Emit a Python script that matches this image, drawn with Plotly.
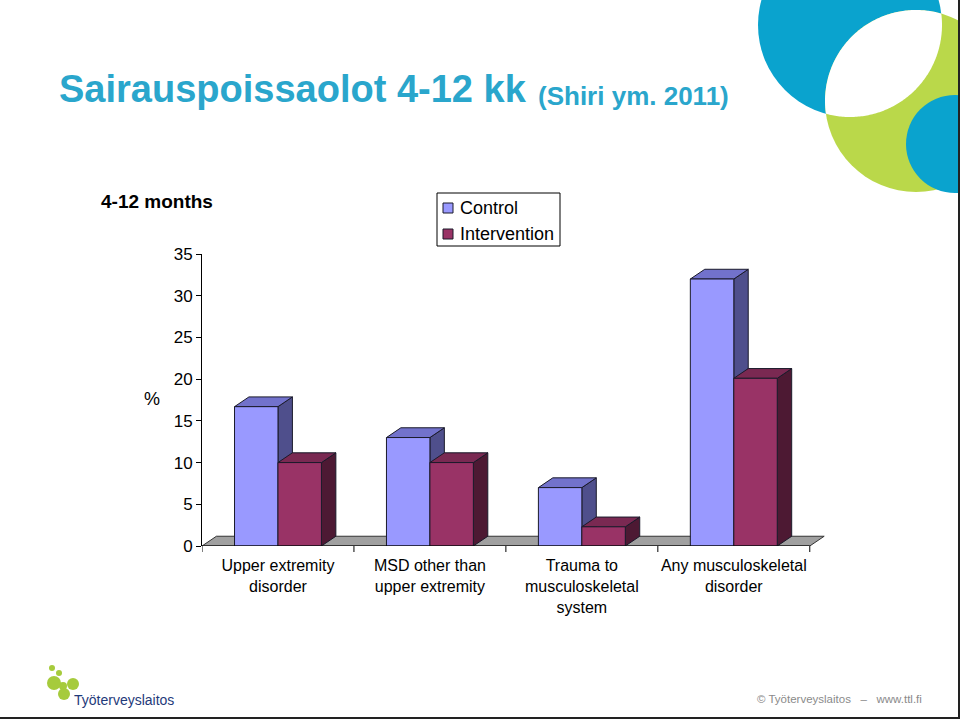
import numpy as np
import plotly.graph_objects as go

# --- data -------------------------------------------------------------
categories = [
    "Upper extremity<br>disorder",
    "MSD other than<br>upper extremity",
    "Trauma to<br>musculoskeletal<br>system",
    "Any musculoskeletal<br>disorder",
]
series_names = ["Control", "Intervention"]
control = [16.7, 13.0, 7.0, 32.0]
intervention = [10.0, 10.0, 2.3, 20.1]
y_ticks = [0, 5, 10, 15, 20, 25, 30, 35]

# --- page geometry (page pixels) -------------------------------------
W, H = 960, 719
PL, PR, PT, PB = 202, 828, 254, 546          # plot area edges on the page
X_RANGE = [-0.5, 3.62]
Y_RANGE = [0, 35]

BAR_W = 0.286          # width of one bar in category units
DX, DY = 0.095, 1.17   # fake 3-D depth offset in data units

C_FRONT, C_TOP, C_SIDE = "#9999FF", "#7272CC", "#4F4F8C"
I_FRONT, I_TOP, I_SIDE = "#993366", "#7A2952", "#4D1933"
EDGE = "#1A1A2A"


def px(x):
    """page x pixel -> paper x"""
    return (x - PL) / (PR - PL)


def py(y):
    """page y pixel -> paper y"""
    return (PB - y) / (PB - PT)


def faces(values, offset):
    """polygons for the front, top and side of each bar, None-separated"""
    front, top, side = ([], []), ([], []), ([], [])
    for i, v in enumerate(values):
        xl = i + offset
        xr = xl + BAR_W
        for poly, (xs, ys) in (
            (front, ([xl, xr, xr, xl, xl], [0, 0, v, v, 0])),
            (top, ([xl, xr, xr + DX, xl + DX, xl], [v, v, v + DY, v + DY, v])),
            (side, ([xr, xr + DX, xr + DX, xr, xr], [0, DY, v + DY, v, 0])),
        ):
            poly[0].extend(xs + [None])
            poly[1].extend(ys + [None])
    return front, top, side


def poly_trace(xy, colour):
    return go.Scatter(
        x=xy[0], y=xy[1], mode="lines", fill="toself", fillcolor=colour,
        line=dict(color=EDGE, width=1), hoverinfo="skip", showlegend=False,
    )


fig = go.Figure()

# floor of the 3-D box
n = len(categories)
fig.add_trace(go.Scatter(
    x=[-0.5, n - 0.5, n - 0.5 + DX, -0.5 + DX, -0.5],
    y=[0, 0, DY, DY, 0],
    mode="lines", fill="toself", fillcolor="#A0A0A0",
    line=dict(color="#333333", width=1), hoverinfo="skip", showlegend=False,
))

for vals, off, cols in (
    (control, -BAR_W, (C_FRONT, C_TOP, C_SIDE)),
    (intervention, 0.0, (I_FRONT, I_TOP, I_SIDE)),
):
    fr, tp, sd = faces(vals, off)
    fig.add_trace(poly_trace(sd, cols[2]))
    fig.add_trace(poly_trace(tp, cols[1]))
    fig.add_trace(poly_trace(fr, cols[0]))

# x axis line and category boundary ticks
shapes = [dict(type="line", xref="x", yref="y", x0=-0.5, x1=n - 0.5,
               y0=0, y1=0, line=dict(color="black", width=1))]
for b in np.arange(n + 1) - 0.5:
    shapes.append(dict(type="line", xref="x", yref="paper", x0=b, x1=b,
                       y0=0, y1=-6 / (PB - PT),
                       line=dict(color="black", width=1)))


def circle(cx, cy, r, colour, layer="below"):
    return dict(type="circle", xref="paper", yref="paper",
                x0=px(cx - r), x1=px(cx + r), y0=py(cy + r), y1=py(cy - r),
                fillcolor=colour, line=dict(width=0), layer=layer)


def rect(x0, y0, x1, y1, fill, line_col=None):
    return dict(type="rect", xref="paper", yref="paper",
                x0=px(x0), x1=px(x1), y0=py(y1), y1=py(y0), fillcolor=fill,
                line=dict(color=line_col or fill, width=1 if line_col else 0))


# decorative circles in the top-right corner
BLUE, GREEN = "#0AA3CE", "#BAD84A"
c1, r1 = (850, 25), 92
c2, r2 = (916, 101), 91
shapes.append(circle(*c1, r1, BLUE))
shapes.append(circle(*c2, r2, GREEN))

# white lens where the two big circles overlap
t = np.linspace(0, 2 * np.pi, 400)
pts = []
for (cx, cy, r), (ox, oy, orr) in (((*c1, r1), (*c2, r2)), ((*c2, r2), (*c1, r1))):
    xs, ys = cx + r * np.cos(t), cy + r * np.sin(t)
    inside = (xs - ox) ** 2 + (ys - oy) ** 2 <= orr ** 2
    pts.extend(zip(xs[inside], ys[inside]))
pts = np.array(pts)
mx, my = pts.mean(axis=0)
pts = pts[np.argsort(np.arctan2(pts[:, 1] - my, pts[:, 0] - mx))]
path = "M" + "L".join(f"{px(a):.5f},{py(b):.5f}" for a, b in pts) + "Z"
shapes.append(dict(type="path", xref="paper", yref="paper", path=path,
                   fillcolor="white", line=dict(width=0), layer="below"))
shapes.append(circle(955, 144, 49, BLUE))

# logo blobs
LOGO_G = "#A6CB3C"
for cx, cy, r in ((52, 668, 3), (59, 673, 3), (54, 683, 7),
                  (63, 686, 4), (73, 684, 6), (64, 694, 6)):
    shapes.append(circle(cx, cy, r, LOGO_G))

# hand-built legend box (matches the compact Excel legend)
shapes.append(rect(437, 193, 560, 246, "white", "black"))
for (y0, y1), col in (((203, 213), C_FRONT), ((229, 239), I_FRONT)):
    shapes.append(rect(443, y0, 453, y1, col, EDGE))

# page frame (right and bottom)
shapes.append(dict(type="line", xref="paper", yref="paper",
                   x0=px(959), x1=px(959), y0=py(0), y1=py(719),
                   line=dict(color="#222222", width=2)))
shapes.append(dict(type="line", xref="paper", yref="paper",
                   x0=px(0), x1=px(960), y0=py(718), y1=py(718),
                   line=dict(color="#222222", width=2)))

FONT = "Arial, Liberation Sans, sans-serif"
TEAL = "#2AA6CC"
annotations = [
    dict(x=px(57), y=py(89), text="Sairauspoissaolot 4-12 kk",
         font=dict(size=38, color=TEAL, family=FONT, weight="bold")),
    dict(x=px(536), y=py(96), text="(Shiri ym. 2011)",
         font=dict(size=26, color=TEAL, family=FONT, weight="bold")),
    dict(x=px(99), y=py(201), text="4-12 months",
         font=dict(size=19, color="black", family=FONT, weight="bold")),
    dict(x=px(142), y=py(399), text="%",
         font=dict(size=18, color="black", family=FONT)),
    dict(x=px(458), y=py(208), text=series_names[0],
         font=dict(size=18, color="black", family=FONT)),
    dict(x=px(458), y=py(234), text=series_names[1],
         font=dict(size=18, color="black", family=FONT)),
    dict(x=px(72), y=py(700), text="Työterveyslaitos",
         font=dict(size=14, color="#1F3A7A", family=FONT)),
    dict(x=px(755), y=py(699), text="© Työterveyslaitos   –   www.ttl.fi",
         font=dict(size=11.5, color="#8A8A8A", family=FONT)),
]
for a in annotations:
    a.update(xref="paper", yref="paper", xanchor="left", yanchor="middle",
             showarrow=False)

fig.update_layout(
    width=W, height=H, autosize=False,
    margin=dict(l=PL, r=W - PR, t=PT, b=H - PB, pad=0),
    paper_bgcolor="white", plot_bgcolor="rgba(0,0,0,0)",
    font=dict(family=FONT, color="black"),
    showlegend=False,
    xaxis=dict(range=X_RANGE, showgrid=False, zeroline=False, showline=False,
               tickvals=list(range(n)), ticktext=categories, ticks="",
               ticklabelstandoff=8, tickfont=dict(size=16), fixedrange=True),
    yaxis=dict(range=Y_RANGE, showgrid=False, zeroline=False, showline=True,
               linecolor="black", linewidth=1, ticks="outside", ticklen=5,
               tickcolor="black", tickvals=y_ticks, tickfont=dict(size=17),
               fixedrange=True),
    shapes=shapes,
    annotations=annotations,
)

# drop the browser's default body margin so the slide fills the window
fig.write_html("out.html",
               config={"displayModeBar": False},
               post_script="document.body.style.margin='0';"
                           "document.body.style.overflow='hidden';")
